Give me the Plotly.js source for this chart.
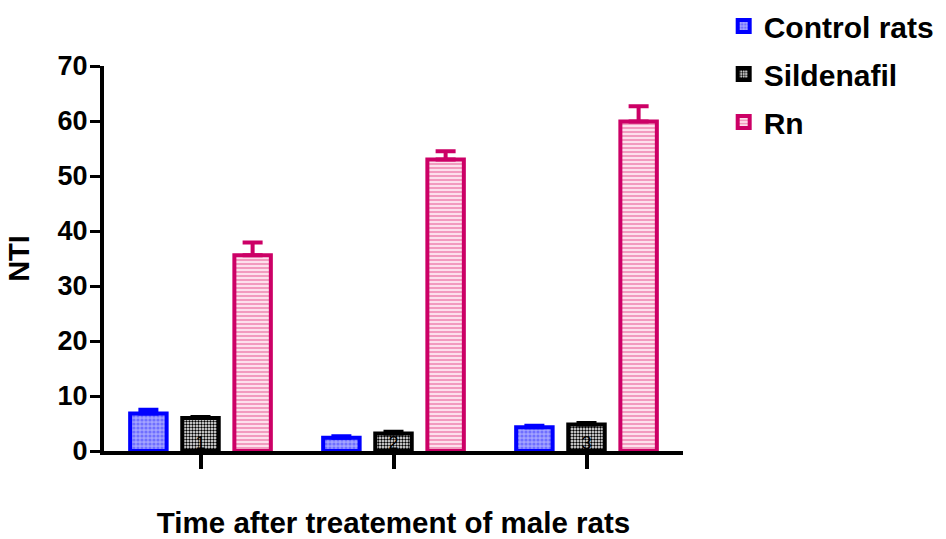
<!DOCTYPE html>
<html>
<head>
<meta charset="utf-8">
<script src="https://cdn.plot.ly/plotly-3.0.1.min.js"></script>
<style>html,body{margin:0;padding:0;background:#fff;}#chart{width:946px;height:539px;}</style>
</head>
<body>
<div id="chart"></div>
<script>
// ---- data ----
const timepoints = [1, 2, 3];
const tickLabels = ["1", "2", "3"];
const seriesNames = ["Control rats", "Sildenafil", "Rn"];
const controlValues = [6.8, 2.4, 4.3];
const controlErrors = [0.7, 0.3, 0.3];
const sildenafilValues = [6.0, 3.2, 4.8];
const sildenafilErrors = [0.2, 0.3, 0.3];
const rnValues = [35.6, 53.0, 59.9];
const rnErrors = [2.3, 1.5, 2.8];
const yTicks = [0, 10, 20, 30, 40, 50, 60, 70];

const zeros = [0, 0, 0];
const FONT = "Liberation Sans, Arial, Helvetica, sans-serif";

function barTrace(name, y, err, line, bg, fg, shape, size, group) {
  return {
    type: "bar", name: name, x: timepoints, y: y,
    legendgroup: group,
    marker: {
      color: bg,
      line: {color: line, width: 4},
      pattern: {shape: shape, fgcolor: fg, bgcolor: bg, size: size, solidity: 0.5, fillmode: "replace"}
    },
    error_y: {type: "data", symmetric: false, array: err, arrayminus: zeros,
              color: line, thickness: 4, width: 10}
  };
}

const traces = [
  barTrace(seriesNames[0], controlValues, controlErrors, "#0000ff", "#a4a4ff", "#6f6fff", ".", 4, "a"),
  barTrace(seriesNames[1], sildenafilValues, sildenafilErrors, "#000000", "#ffffff", "#000000", ".", 3, "b"),
  barTrace(seriesNames[2], rnValues, rnErrors, "#cc0066", "#fde0ec", "#f29bbf", "-", 4, "c")
];

const layout = {
  width: 946, height: 539,
  margin: {l: 104, r: 263, t: 66, b: 88, pad: 0, autoexpand: false},
  paper_bgcolor: "#ffffff", plot_bgcolor: "#ffffff",
  font: {family: FONT, color: "#000000"},
  barmode: "group", bargap: 0.19, bargroupgap: 0.3,
  showlegend: true,
  legend: {
    xref: "container", yref: "container",
    x: 0.765, xanchor: "left", y: 1.006, yanchor: "top",
    font: {family: FONT, size: 30, weight: 700, color: "#000000"},
    tracegroupgap: 6, itemwidth: 30, bgcolor: "rgba(0,0,0,0)"
  },
  xaxis: {
    range: [0.5, 3.5], automargin: false,
    tickmode: "array", tickvals: timepoints, ticktext: tickLabels,
    ticks: "outside", ticklen: 14, tickwidth: 4, tickcolor: "#000",
    ticklabelposition: "outside", ticklabelstandoff: -42,
    tickfont: {family: FONT, size: 18, color: "#000"},
    showline: true, linecolor: "#000", linewidth: 4,
    showgrid: false, zeroline: false, fixedrange: true,
    title: {text: "Time after treatement of male rats", standoff: 65,
            font: {family: FONT, size: 29.5, weight: 700, color: "#000"}}
  },
  yaxis: {
    range: [0, 70], automargin: false,
    tickmode: "array", tickvals: yTicks,
    ticks: "outside", ticklen: 10, tickwidth: 3, tickcolor: "#000",
    ticklabelstandoff: -3,
    tickfont: {family: FONT, size: 27, weight: 700, color: "#000"},
    showline: true, linecolor: "#000", linewidth: 4,
    showgrid: false, zeroline: false, fixedrange: true,
    title: {text: "NTI", standoff: 20,
            font: {family: FONT, size: 29, weight: 700, color: "#000"}}
  }
};

Plotly.newPlot("chart", traces, layout, {displayModeBar: false, staticPlot: true});
</script>
</body>
</html>
